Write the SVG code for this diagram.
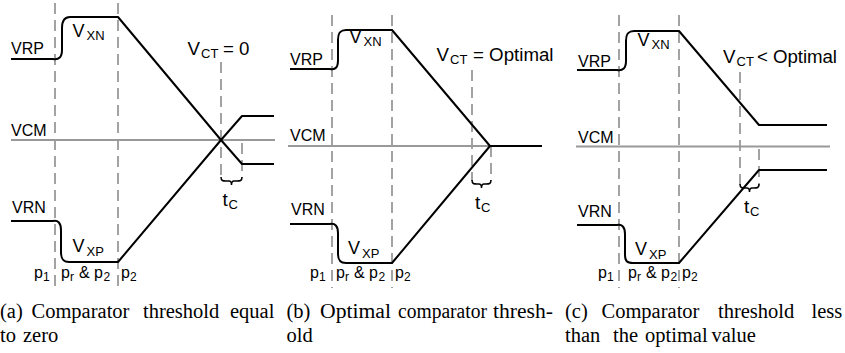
<svg xmlns="http://www.w3.org/2000/svg" width="845" height="353" viewBox="0 0 845 353">
<style>
.bg{fill:#fff}
.sig{fill:none;stroke:#000;stroke-width:2;stroke-linejoin:round}
.vcm{stroke:#999;stroke-width:2;fill:none}
.dash{stroke:#999;stroke-width:1.8;stroke-dasharray:11,6;fill:none}
.brace{fill:none;stroke:#000;stroke-width:1.5}
.lbl{font-family:"Liberation Sans",Arial,sans-serif;font-size:16px;fill:#000}
.v{font-family:"Liberation Sans",Arial,sans-serif;font-size:18px;fill:#000}
.ct{font-family:"Liberation Sans",Arial,sans-serif;font-size:18.7px;fill:#000}
.sub{font-family:"Liberation Sans",Arial,sans-serif;font-size:13px;fill:#000}
.psub{font-family:"Liberation Sans",Arial,sans-serif;font-size:12px;fill:#000}
.t{font-family:"Liberation Sans",Arial,sans-serif;font-size:19px;fill:#000}
.cap{font-family:"Liberation Serif","Times New Roman",serif;font-size:20.5px;fill:#000}
</style>
<rect class="bg" x="0" y="0" width="845" height="353"/>

<g id="panel-a">
  <g id="a-grid">
    <line class="vcm" x1="11" y1="140" x2="275" y2="140"/>
    <line class="dash" x1="55" y1="3" x2="55" y2="287"/>
    <line class="dash" x1="118" y1="3" x2="118" y2="287"/>
    <line class="dash" x1="221" y1="62" x2="221" y2="178"/>
    <line class="dash" x1="242" y1="143" x2="242" y2="178"/>
  </g>
  <g id="a-connectors">
    <path class="sig" d="M11,59 H53 C59,60 62,57 62,50 V28 C62,21 64,17 70,17 H118 L221,140 L242,116 H274"/>
    <path class="sig" d="M11,221 H53 C58,220 61,223 61,230 V252 C61,259 63,262 69,262 H118 L221,140 L242,164 H274"/>
    <path class="brace" d="M221,177 C221,181 223,181 226,181 H229 C231,181 231.5,183 231.5,185 C231.5,183 232,181 234,181 H237 C240,181 242,181 242,177"/>
  </g>
  <g id="a-labels">
    <text class="lbl" x="11" y="54">VRP</text>
    <text class="lbl" x="11" y="136">VCM</text>
    <text class="lbl" x="12" y="213">VRN</text>
    <text class="v" x="72.5" y="37">V</text><text class="sub" x="86.5" y="40">XN</text>
    <text class="v" x="72.5" y="252">V</text><text class="sub" x="86.5" y="256">XP</text>
    <text class="ct" x="187.5" y="55">V</text><text class="sub" x="201" y="58">CT</text><text class="ct" x="223" y="55">= 0</text>
    <text class="t" x="222.5" y="206">t</text><text class="sub" x="228.5" y="209">C</text>
    <text class="lbl" x="34" y="278">p</text><text class="psub" x="43" y="281">1</text>
    <text class="lbl" x="61" y="278">p</text><text class="psub" x="70" y="281">r</text><text class="lbl" x="79" y="278">&amp; p</text><text class="psub" x="103.5" y="281">2</text>
    <text class="lbl" x="121" y="278">p</text><text class="psub" x="130" y="281">2</text>
  </g>
</g>

<g id="panel-b">
  <g id="b-grid">
    <line class="vcm" x1="288" y1="146" x2="542" y2="146"/>
    <line class="dash" x1="332" y1="15" x2="332" y2="288"/>
    <line class="dash" x1="392" y1="15" x2="392" y2="288"/>
    <line class="dash" x1="472" y1="70" x2="472" y2="181"/>
    <line class="dash" x1="491" y1="146" x2="491" y2="181"/>
  </g>
  <g id="b-connectors">
    <path class="sig" d="M290,69 H330 C336,70 338,67 338,60 V40 C338,33 340,30 346,30 H392 L490,146 H542"/>
    <path class="sig" d="M290,224 H330 C335,223 338,226 338,233 V254 C338,260 340,263 346,263 H392 L490,146"/>
    <path class="brace" d="M472,180 C472,184 474,184 477,184 H479 C481,184 481.5,186 481.5,188 C481.5,186 482,184 484,184 H486 C489,184 491,184 491,180"/>
  </g>
  <g id="b-labels">
    <text class="lbl" x="290" y="65">VRP</text>
    <text class="lbl" x="290" y="141">VCM</text>
    <text class="lbl" x="291" y="215">VRN</text>
    <text class="v" x="349.5" y="43">V</text><text class="sub" x="363.5" y="46">XN</text>
    <text class="v" x="348" y="254">V</text><text class="sub" x="362" y="258">XP</text>
    <text class="ct" x="436.5" y="61">V</text><text class="sub" x="450" y="64">CT</text><text class="ct" x="473" y="61">= Optimal</text>
    <text class="t" x="475" y="209">t</text><text class="sub" x="481" y="212">C</text>
    <text class="lbl" x="310" y="278">p</text><text class="psub" x="319" y="281">1</text>
    <text class="lbl" x="336" y="278">p</text><text class="psub" x="345" y="281">r</text><text class="lbl" x="354" y="278">&amp; p</text><text class="psub" x="378.5" y="281">2</text>
    <text class="lbl" x="395" y="278">p</text><text class="psub" x="404" y="281">2</text>
  </g>
</g>

<g id="panel-c">
  <g id="c-grid">
    <line class="vcm" x1="576" y1="146.5" x2="830" y2="146.5"/>
    <line class="dash" x1="619" y1="15" x2="619" y2="288"/>
    <line class="dash" x1="679" y1="15" x2="679" y2="288"/>
    <line class="dash" x1="740" y1="72" x2="740" y2="186"/>
    <line class="dash" x1="759" y1="149" x2="759" y2="186"/>
  </g>
  <g id="c-connectors">
    <path class="sig" d="M577,70 H617 C623,71 626,68 626,61 V41 C626,34 628,31 634,31 H679 L759,125 H827"/>
    <path class="sig" d="M577,225 H617 C622,224 625,227 625,234 V255 C625,261 627,263 633,263 H679 L759,170 H827"/>
    <path class="brace" d="M740,184 C740,188 742,188 745,188 H747 C749,188 749.5,190 749.5,192 C749.5,190 750,188 752,188 H754 C757,188 759,188 759,184"/>
  </g>
  <g id="c-labels">
    <text class="lbl" x="578" y="67">VRP</text>
    <text class="lbl" x="578" y="143">VCM</text>
    <text class="lbl" x="578" y="217">VRN</text>
    <text class="v" x="637.5" y="46">V</text><text class="sub" x="651.5" y="49">XN</text>
    <text class="v" x="635" y="255">V</text><text class="sub" x="649" y="259">XP</text>
    <text class="ct" x="723" y="63">V</text><text class="sub" x="736.5" y="66">CT</text><text class="ct" x="757" y="63" textLength="80">&lt; Optimal</text>
    <text class="t" x="744" y="213">t</text><text class="sub" x="750" y="216">C</text>
    <text class="lbl" x="598" y="278">p</text><text class="psub" x="607" y="281">1</text>
    <text class="lbl" x="628" y="278">p</text><text class="psub" x="637" y="281">r</text><text class="lbl" x="646" y="278">&amp; p</text><text class="psub" x="670.5" y="281">2</text>
    <text class="lbl" x="682" y="278">p</text><text class="psub" x="691" y="281">2</text>
  </g>
</g>

<g id="captions">
  <text class="cap" x="0" y="318">(a)</text>
  <text class="cap" x="31.5" y="318">Comparator</text>
  <text class="cap" x="143" y="318">threshold</text>
  <text class="cap" x="230" y="318">equal</text>
  <text class="cap" x="0" y="341.5">to</text>
  <text class="cap" x="23" y="341.5">zero</text>
  <text class="cap" x="286.5" y="318">(b)</text>
  <text class="cap" x="320" y="318" textLength="71" lengthAdjust="spacingAndGlyphs">Optimal</text>
  <text class="cap" x="398" y="318" textLength="89" lengthAdjust="spacingAndGlyphs">comparator</text>
  <text class="cap" x="493" y="318" textLength="60" lengthAdjust="spacingAndGlyphs">thresh-</text>
  <text class="cap" x="286.5" y="341.5">old</text>
  <text class="cap" x="565" y="318">(c)</text>
  <text class="cap" x="601.5" y="318">Comparator</text>
  <text class="cap" x="718" y="318">threshold</text>
  <text class="cap" x="811.5" y="318">less</text>
  <text class="cap" x="565" y="341.5">than</text>
  <text class="cap" x="613" y="341.5">the</text>
  <text class="cap" x="645" y="341.5">optimal</text>
  <text class="cap" x="711.5" y="341.5">value</text>
</g>
</svg>
